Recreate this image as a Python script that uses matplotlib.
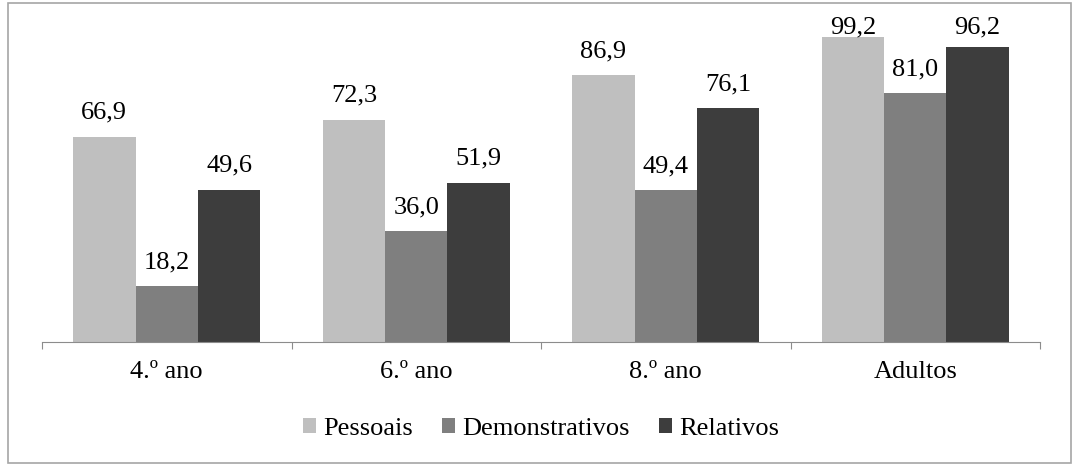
import matplotlib
matplotlib.use("Agg")
import matplotlib.pyplot as plt
from matplotlib.patches import Rectangle
import numpy as np

# Data
categories = ["4.º ano", "6.º ano", "8.º ano", "Adultos"]
series_names = ["Pessoais", "Demonstrativos", "Relativos"]
pessoais = [66.9, 72.3, 86.9, 99.2]
demonstrativos = [18.2, 36.0, 49.4, 81.0]
relativos = [49.6, 51.9, 76.1, 96.2]
colors = ["#bfbfbf", "#7f7f7f", "#3d3d3d"]

plt.rcParams["font.family"] = ["Liberation Serif", "DejaVu Serif"]
fs = 19

fig = plt.figure(figsize=(10.8, 4.66), dpi=100)
fig.patches.append(Rectangle((8 / 1080, 3 / 466), 1063 / 1080, 460 / 466,
                             transform=fig.transFigure, fill=False,
                             edgecolor="#a6a6a6", linewidth=1.2))
ax = fig.add_axes([42 / 1080, 124 / 466, 998 / 1080, 307 / 466])

x = np.arange(len(categories))
width = 0.25
label_gap = 5.9   # gap above bar, in data units
label_cap = 100.6  # labels are kept inside the chart area
for i, (vals, name) in enumerate(zip([pessoais, demonstrativos, relativos], series_names)):
    bars = ax.bar(x + (i - 1) * width, vals, width, color=colors[i], label=name)
    for b, v in zip(bars, vals):
        ax.text(b.get_x() + b.get_width() / 2, min(v + label_gap, label_cap),
                f"{v:.1f}".replace(".", ","),
                ha="center", va="baseline", fontsize=fs, clip_on=False)

ax.set_xlim(-0.5, len(categories) - 0.5)
ax.set_ylim(0, 100)
ax.set_yticks([])
for s in ["top", "right", "left"]:
    ax.spines[s].set_visible(False)
ax.spines["bottom"].set_color("#8c8c8c")
ax.set_xticks(np.arange(len(categories) + 1) - 0.5)
ax.set_xticklabels([])
ax.set_xticks(x, minor=True)
ax.set_xticklabels(categories, minor=True, fontsize=fs)
ax.tick_params(axis="x", which="major", length=5, color="#8c8c8c")
ax.tick_params(axis="x", which="minor", length=0, pad=14)

ax.legend(loc="center", bbox_to_anchor=(0.5, (466 - 429 - 124) / 307),
          ncol=3, frameon=False,
          prop={"family": ["Liberation Serif", "DejaVu Serif"], "size": fs},
          handlelength=0.5, handleheight=0.5,
          handletextpad=0.27, columnspacing=1.1)

fig.savefig("out.png", dpi=100)
